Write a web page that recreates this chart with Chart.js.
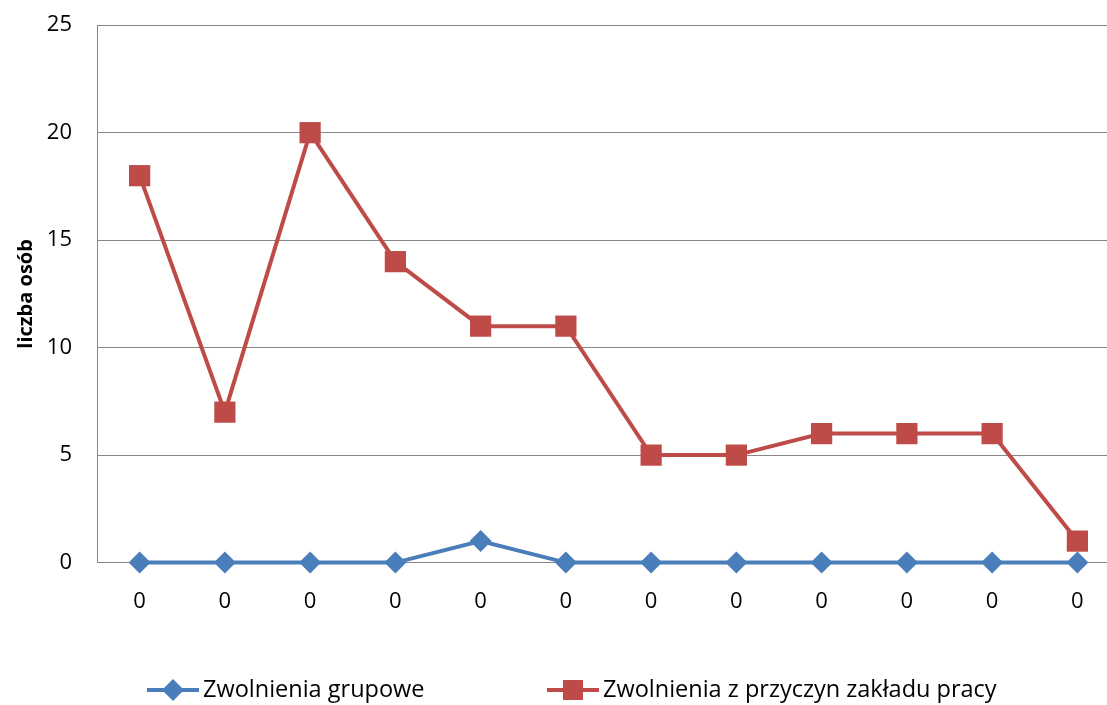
<!DOCTYPE html>
<html>
<head>
<meta charset="utf-8">
<script src="https://cdn.jsdelivr.net/npm/chart.js@4.4.0/dist/chart.umd.min.js"></script>
<style>
  html, body { margin: 0; padding: 0; background: #fff; overflow: hidden; }
  #wrap { width: 1120px; height: 718px; margin-top: -13px; }
</style>
</head>
<body>
<div id="wrap"><canvas id="myChart"></canvas></div>
<script>
// dane z wykresu
const categories = ['0', '0', '0', '0', '0', '0', '0', '0', '0', '0', '0', '0']
const grupowe = [0, 0, 0, 0, 1, 0, 0, 0, 0, 0, 0, 0]
const zakladPracy = [18, 7, 20, 14, 11, 11, 5, 5, 6, 6, 6, 1]
const yTicks = [0, 5, 10, 15, 20, 25]

const blue = '#4a7ebb'
const red = '#be4b48'
const fontName = "'Open Sans', 'Liberation Sans', sans-serif"

// legenda rysowana recznie (linia + znacznik + tekst)
const bottomLegend = {
  id: 'bottomLegend',
  afterDraw(chart) {
    const { ctx } = chart
    const items = [
      { x: 147, ds: chart.data.datasets[0], style: 'diamond' },
      { x: 547, ds: chart.data.datasets[1], style: 'rect' }
    ]
    const y = 703
    ctx.save()
    items.forEach(it => {
      const c = it.ds.borderColor
      ctx.strokeStyle = c
      ctx.fillStyle = c
      ctx.lineWidth = 4
      ctx.beginPath()
      ctx.moveTo(it.x, y)
      ctx.lineTo(it.x + 52, y)
      ctx.stroke()
      const cx = it.x + 26
      if (it.style === 'rect') {
        ctx.fillRect(cx - 10, y - 10, 20, 20)
      } else {
        ctx.beginPath()
        ctx.moveTo(cx, y - 11)
        ctx.lineTo(cx + 11, y)
        ctx.lineTo(cx, y + 11)
        ctx.lineTo(cx - 11, y)
        ctx.closePath()
        ctx.fill()
      }
      ctx.fillStyle = '#000'
      ctx.font = '23.5px ' + fontName
      ctx.textAlign = 'left'
      ctx.textBaseline = 'middle'
      ctx.fillText(it.ds.label, it.x + 56, y)
    })
    ctx.restore()
  }
}

const ctx = document.getElementById('myChart')

new Chart(ctx, {
  type: 'line',
  plugins: [bottomLegend],
  data: {
    labels: categories,
    datasets: [
      {
        label: 'Zwolnienia grupowe',
        data: grupowe,
        borderColor: blue,
        backgroundColor: blue,
        borderWidth: 4,
        pointStyle: 'rectRot',
        pointRadius: 11,
        pointHoverRadius: 11,
        pointBorderWidth: 0,
        tension: 0,
        clip: false
      },
      {
        label: 'Zwolnienia z przyczyn zakładu pracy',
        data: zakladPracy,
        borderColor: red,
        backgroundColor: red,
        borderWidth: 4,
        pointStyle: 'rect',
        pointRadius: 15,
        pointHoverRadius: 15,
        pointBorderWidth: 0,
        tension: 0,
        clip: false
      }
    ]
  },
  options: {
    responsive: true,
    maintainAspectRatio: false,
    animation: false,
    layout: { autoPadding: false, padding: { top: 0, right: 0, bottom: 64, left: 0 } },
    plugins: {
      tooltip: { enabled: false },
      legend: { display: false }
    },
    scales: {
      x: {
        offset: true,
        grid: { display: false, drawTicks: false },
        border: { color: '#868686', width: 1 },
        ticks: { color: '#000', font: { family: fontName, size: 22 }, padding: 26, maxRotation: 0 }
      },
      y: {
        min: 0,
        max: 25,
        afterBuildTicks(axis) {
          axis.ticks = yTicks.map(v => ({ value: v }))
        },
        afterFit(axis) {
          axis.width = 97
        },
        grid: { color: '#868686', lineWidth: 1, drawTicks: false },
        border: { color: '#868686', width: 1 },
        ticks: { color: '#000', font: { family: fontName, size: 22 }, padding: 25 },
        title: {
          display: true,
          text: 'liczba osób',
          color: '#000',
          font: { family: fontName, size: 20, weight: 'bold' },
          padding: { top: 14, bottom: 0 }
        }
      }
    }
  }
})
</script>
</body>
</html>
